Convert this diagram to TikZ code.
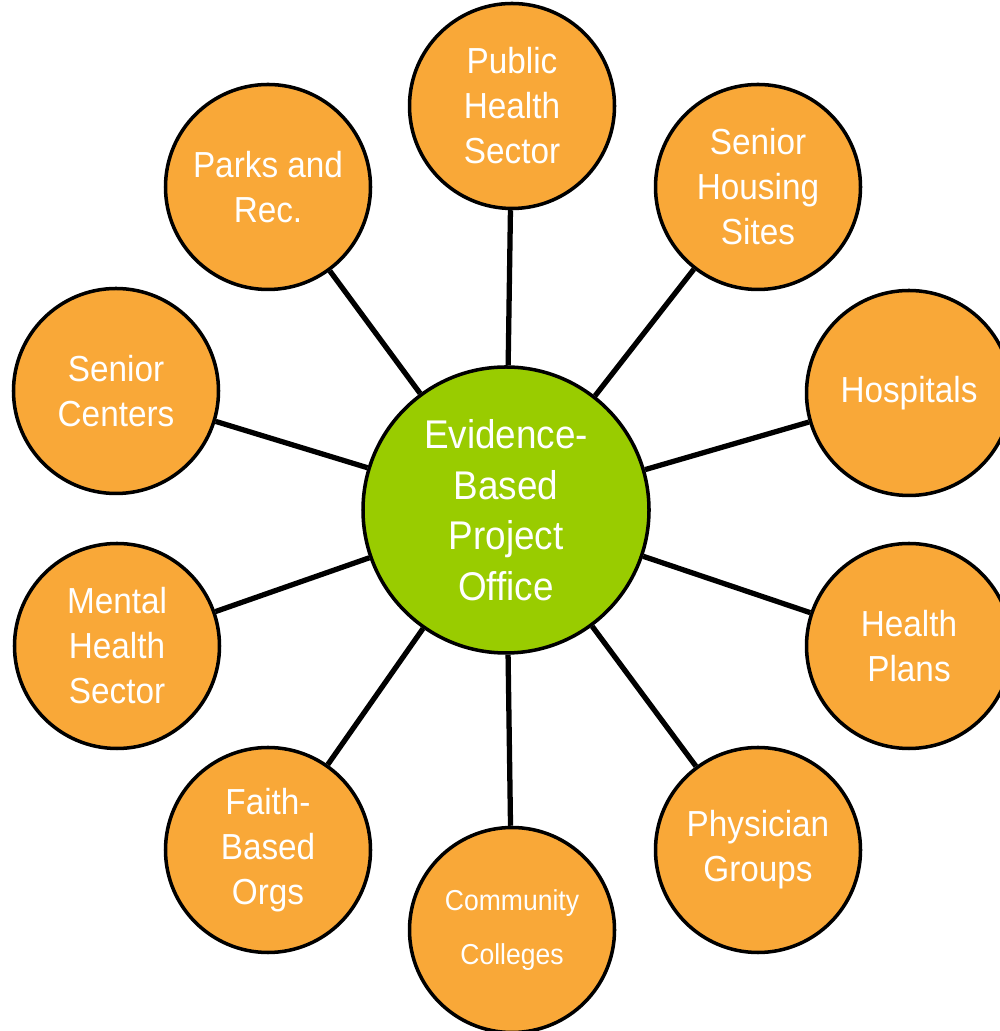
\documentclass[tikz,border=0pt]{standalone}
\usepackage{fontspec}
\setmainfont[FakeStretch=0.92]{Liberation Sans}
\usepackage{tikz}
\definecolor{partnerorange}{RGB}{249,168,56}
\definecolor{hubgreen}{RGB}{153,204,0}

\begin{document}
\begin{tikzpicture}[x=1cm, y=1cm,
  partner/.style={circle, draw=black, line width=2pt, fill=partnerorange,
    minimum size=4.1cm, inner sep=0pt, align=center, text=white,
    font=\fontsize{20.6}{25.6}\selectfont},
  hub/.style={circle, draw=black, line width=2pt, fill=hubgreen,
    minimum size=5.72cm, inner sep=0pt, align=center, text=white,
    font=\fontsize{22.8}{28.8}\selectfont},
  spoke/.style={line width=3pt, black}]

\useasboundingbox (0,0) rectangle (19.98,20.62);

% ============================================================
% Central office
% ============================================================
\node[hub] (office) at (10.12,10.42) {Evidence-\\Based\\Project\\Office};

% ============================================================
% Partner circles, clockwise from the top
% ============================================================
\node[partner] (public)   at (10.24,18.50) {Public\\Health\\Sector};
\node[partner] (housing)  at (15.16,16.88) {Senior\\Housing\\Sites};
\node[partner] (hosp)     at (18.18,12.76) {Hospitals};
\node[partner] (plans)    at (18.18,7.70)  {Health\\Plans};
\node[partner] (physician) at (15.16,3.62) {Physician\\Groups};
\node[partner, font=\fontsize{16.4}{30.7}\selectfont]
  (college) at (10.24,2.02) {Community\\Colleges};
\node[partner] (faith)    at (5.36,3.62)   {Faith-\\Based\\Orgs};
\node[partner] (mental)   at (2.34,7.70)   {Mental\\Health\\Sector};
\node[partner] (centers)  at (2.32,12.80)  {Senior\\Centers};
\node[partner] (parks)    at (5.36,16.88)  {Parks and\\Rec.};

% ============================================================
% Spokes from the office to every partner
% ============================================================
\foreach \p in {public,housing,hosp,plans,physician,college,faith,mental,centers,parks}
  \draw[spoke] (office) -- (\p);

\end{tikzpicture}
\end{document}
